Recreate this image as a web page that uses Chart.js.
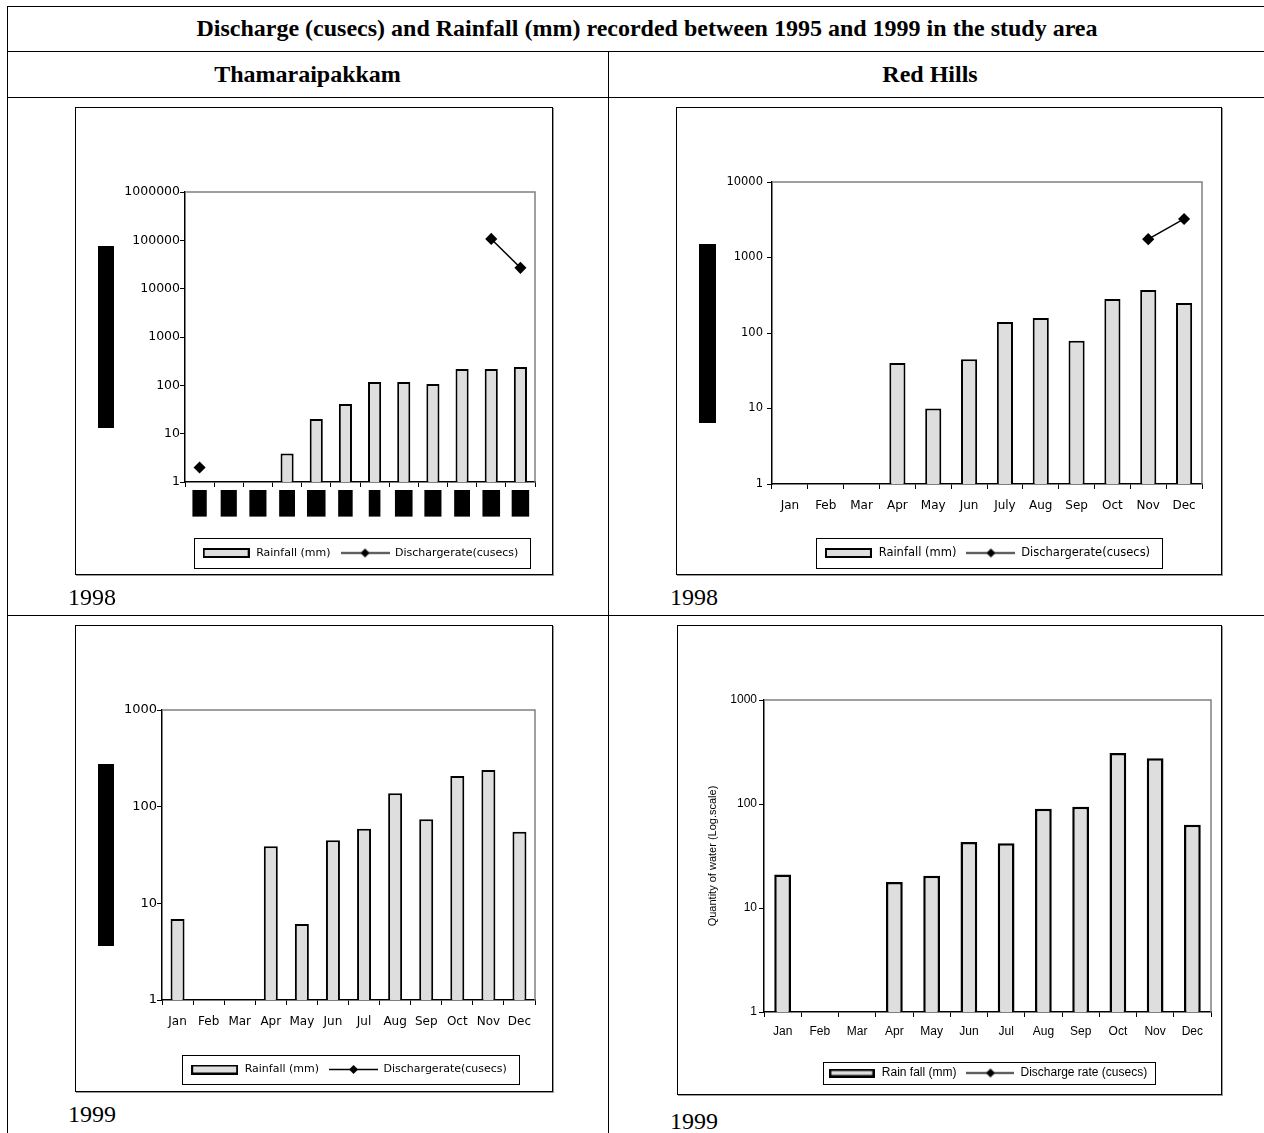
<!DOCTYPE html>
<html>
<head>
<meta charset="utf-8">
<script src="https://cdn.jsdelivr.net/npm/chart.js@4.4.0/dist/chart.umd.min.js"></script>
<style>
  body { margin: 0; background: #fff; width: 1264px; height: 1133px; overflow: hidden; position: relative;
         font-family: "Liberation Serif", "Times New Roman", serif; color: #000; }
  .hl { position: absolute; left: 7px; width: 1257px; height: 1px; background: #000; }
  .vl { position: absolute; width: 1px; background: #000; }
  .head { position: absolute; font-weight: bold; font-size: 24px; text-align: center; white-space: nowrap; }
  .frame { position: absolute; border: 1px solid #000; box-shadow: 1px 1px 0 #999; background: #fff; }
  .frame canvas { display: block; }
  .mask { position: absolute; background: #000; }
  .year { position: absolute; font-size: 24px; line-height: 24px; }
</style>
</head>
<body>
  <div class="hl" style="top:6px"></div>
  <div class="hl" style="top:51px"></div>
  <div class="hl" style="top:97px"></div>
  <div class="hl" style="top:615px"></div>
  <div class="vl" style="left:7px; top:6px; height:1127px"></div>
  <div class="vl" style="left:608px; top:51px; height:1082px"></div>

  <div class="head" style="left:7px; width:1280px; top:6px; line-height:45px">Discharge (cusecs) and Rainfall (mm) recorded between 1995 and 1999 in the study area</div>
  <div class="head" style="left:7px; width:601px; top:51px; line-height:46px">Thamaraipakkam</div>
  <div class="head" style="left:608px; width:644px; top:51px; line-height:46px">Red Hills</div>

  <div class="frame" style="left:75px; top:107px"><canvas id="tham98" width="476" height="466"></canvas></div>
  <div class="frame" style="left:676px; top:107px"><canvas id="red98" width="544" height="466"></canvas></div>
  <div class="frame" style="left:75px; top:625px"><canvas id="tham99" width="476" height="465"></canvas></div>
  <div class="frame" style="left:677px; top:625px"><canvas id="red99" width="543" height="468"></canvas></div>

  <div class="mask" style="left:98px; top:246px; width:16px; height:182px"></div>
  <div class="mask" style="left:699px; top:244px; width:17px; height:179px"></div>
  <div class="mask" style="left:98px; top:764px; width:16px; height:182px"></div>

  <div class="year" style="left:68px; top:585px">1998</div>
  <div class="year" style="left:670px; top:585px">1998</div>
  <div class="year" style="left:68px; top:1102px">1999</div>
  <div class="year" style="left:670px; top:1109px">1999</div>

<script>
const monthLabels = ['Jan', 'Feb', 'Mar', 'Apr', 'May', 'Jun', 'Jul', 'Aug', 'Sep', 'Oct', 'Nov', 'Dec'];
const monthLabelsRed98 = ['Jan', 'Feb', 'Mar', 'Apr', 'May', 'Jun', 'July', 'Aug', 'Sep', 'Oct', 'Nov', 'Dec'];

const yTicksTham98 = [1, 10, 100, 1000, 10000, 100000, 1000000];
const yTicksRed98 = [1, 10, 100, 1000, 10000];
const yTicks99 = [1, 10, 100, 1000];

// Thamaraipakkam 1998
const thamRain98 = [null, null, null, 3.9, 20, 41, 117, 117, 107, 219, 219, 240];
const thamDischarge98 = [2, null, null, null, null, null, null, null, null, null, 107000, 27000];
// Red Hills 1998
const redRain98 = [null, null, null, 40, 10, 45, 140, 158, 79, 282, 372, 250];
const redDischarge98 = [null, null, null, null, null, null, null, null, null, null, 1750, 3240];
// Thamaraipakkam 1999
const thamRain99 = [6.9, null, null, 39, 6.1, 45, 59, 138, 74, 208, 240, 55];
const thamDischarge99 = [null, null, null, null, null, null, null, null, null, null, null, null];
// Red Hills 1999
const redRain99 = [21, null, null, 17.8, 20.4, 43, 42, 90, 94, 310, 276, 63];
const redDischarge99 = [null, null, null, null, null, null, null, null, null, null, null, null];

function barSwatch(w, h, lw) {
    const c = document.createElement('canvas');
    c.width = w; c.height = h;
    const g = c.getContext('2d');
    g.fillStyle = '#dedede';
    g.fillRect(0, 0, w, h);
    g.strokeStyle = '#000';
    g.lineWidth = lw;
    g.strokeRect(lw / 2, lw / 2, w - lw, h - lw);
    return c;
}

function lineSwatch(w, h) {
    const c = document.createElement('canvas');
    c.width = w; c.height = h;
    const g = c.getContext('2d');
    const m = h / 2;
    g.strokeStyle = '#000';
    g.lineWidth = 1.5;
    g.beginPath(); g.moveTo(0, m); g.lineTo(w, m); g.stroke();
    g.fillStyle = '#000';
    g.beginPath();
    g.moveTo(w / 2, m - 4.5); g.lineTo(w / 2 + 4.5, m); g.lineTo(w / 2, m + 4.5); g.lineTo(w / 2 - 4.5, m);
    g.closePath(); g.fill();
    return c;
}

// gray top/right edge of the plot area and the box round the legend
const plotFrame = {
    id: 'plotFrame',
    beforeDatasetsDraw(chart) {
        const { ctx, chartArea: a } = chart;
        ctx.save();
        ctx.strokeStyle = '#808080';
        ctx.lineWidth = 1.5;
        ctx.beginPath();
        ctx.moveTo(a.left, a.top); ctx.lineTo(a.right, a.top); ctx.lineTo(a.right, a.bottom);
        ctx.stroke();
        ctx.restore();
    },
    afterDraw(chart, args, opts) {
        const lg = chart.legend;
        if (!lg || !lg.legendHitBoxes || !lg.legendHitBoxes.length) return;
        const hb = lg.legendHitBoxes;
        const first = hb[0], last = hb[hb.length - 1];
        const cy = first.top + first.height / 2;
        const x0 = Math.round(first.left - opts.padL);
        const x1 = Math.round(last.left + last.width + opts.padR);
        const ctx = chart.ctx;
        ctx.save();
        ctx.strokeStyle = '#000';
        ctx.lineWidth = 1;
        ctx.strokeRect(x0 + 0.5, Math.round(cy - opts.boxH / 2) + 0.5, x1 - x0, opts.boxH);
        ctx.restore();
    }
};

function drawPanel(id, p) {
    const canvas = document.getElementById(id);
    const H = canvas.height;
    const lf = p.legendFont;
    const legendTop = p.legendMid - 10 - lf / 2;   // legend block = font + 10 padding + 10
    const swatches = [barSwatch(p.swatchW, p.swatchH, p.barBorder), lineSwatch(p.swatchW + 2, 11)];

    new Chart(canvas, {
        type: 'bar',
        data: {
            labels: p.labels,
            datasets: [{
                label: p.rainLabel,
                data: p.rain,
                backgroundColor: '#dedede',
                borderColor: '#000',
                borderWidth: p.barBorder,
                barPercentage: 0.9,
                categoryPercentage: 0.5
            }, {
                type: 'line',
                label: p.dischargeLabel,
                data: p.discharge,
                borderColor: '#000',
                borderWidth: 1.5,
                pointStyle: 'rectRot',
                pointRadius: 5,
                pointBackgroundColor: '#000',
                pointBorderColor: '#000',
                spanGaps: false,
                fill: false
            }]
        },
        options: {
            responsive: false,
            animation: false,
            events: [],
            layout: { padding: { top: p.plotTop, right: p.padRight, left: 0, bottom: H - legendTop - (lf + 20) } },
            scales: {
                x: {
                    grid: { drawOnChartArea: false, tickLength: 5, color: '#000', lineWidth: 1 },
                    border: { color: '#000', width: 1.5 },
                    ticks: {
                        color: '#000',
                        font: { family: p.font, size: p.redact ? 8 : p.xFont },
                        padding: p.xPad,
                        maxRotation: 0,
                        autoSkip: false,
                        showLabelBackdrop: !!p.redact,
                        backdropColor: '#000',
                        backdropPadding: { top: 8.5, bottom: 8.5, left: 1, right: 1 }
                    },
                    afterFit: s => { s.height = legendTop - p.plotBottom; }
                },
                y: {
                    type: 'logarithmic',
                    min: p.yTicks[0],
                    max: p.yTicks[p.yTicks.length - 1],
                    afterBuildTicks: s => { s.ticks = p.yTicks.map(v => ({ value: v })); },
                    afterFit: s => { s.width = p.plotLeft; },
                    grid: { drawOnChartArea: false, tickLength: 5, color: '#000', lineWidth: 1 },
                    border: { color: '#000', width: 1.5 },
                    ticks: { color: '#000', font: { family: p.font, size: p.yFont }, padding: p.yPad, callback: v => String(v) },
                    title: {
                        display: !!p.yTitle,
                        text: p.yTitle || '',
                        color: '#000',
                        font: { family: p.font, size: 11 },
                        padding: { top: 28, bottom: 0 }
                    }
                }
            },
            plugins: {
                legend: {
                    position: 'bottom',
                    fullSize: false,
                    labels: {
                        color: '#000',
                        font: { family: p.font, size: lf },
                        padding: 10,
                        usePointStyle: true,
                        pointStyleWidth: p.swatchW + 2,
                        generateLabels: chart => Chart.defaults.plugins.legend.labels.generateLabels(chart)
                            .map((item, i) => Object.assign(item, { pointStyle: swatches[i], rotation: 0 }))
                    }
                },
                tooltip: { enabled: false },
                plotFrame: { padL: p.legendPad[0], padR: p.legendPad[1], boxH: p.legendH }
            }
        },
        plugins: [plotFrame]
    });
}

drawPanel('tham98', {
    labels: monthLabels, rain: thamRain98, discharge: thamDischarge98, yTicks: yTicksTham98,
    rainLabel: 'Rainfall (mm)', dischargeLabel: 'Dischargerate(cusecs)',
    font: 'DejaVu Sans', xFont: 12, yFont: 12.5, legendFont: 11,
    plotLeft: 109, plotTop: 84, plotBottom: 374, padRight: 17,
    legendMid: 445, legendH: 30, legendPad: [8, 12], swatchW: 47, swatchH: 10, barBorder: 2,
    xPad: 11.5, yPad: 0, redact: true
});

drawPanel('red98', {
    labels: monthLabelsRed98, rain: redRain98, discharge: redDischarge98, yTicks: yTicksRed98,
    rainLabel: 'Rainfall (mm)', dischargeLabel: 'Dischargerate(cusecs)',
    font: 'DejaVu Sans', xFont: 12, yFont: 11.5, legendFont: 11.5,
    plotLeft: 95, plotTop: 74, plotBottom: 376, padRight: 19,
    legendMid: 445, legendH: 30, legendPad: [8, 12], swatchW: 47, swatchH: 10, barBorder: 2,
    xPad: 9.5, yPad: 4
});

drawPanel('tham99', {
    labels: monthLabels, rain: thamRain99, discharge: thamDischarge99, yTicks: yTicks99,
    rainLabel: 'Rainfall (mm)', dischargeLabel: 'Dischargerate(cusecs)',
    font: 'DejaVu Sans', xFont: 12, yFont: 13, legendFont: 11,
    plotLeft: 86, plotTop: 84, plotBottom: 374, padRight: 17,
    legendMid: 443.5, legendH: 29, legendPad: [8, 12], swatchW: 47, swatchH: 10, barBorder: 2,
    xPad: 9.5, yPad: 0
});

drawPanel('red99', {
    labels: monthLabels, rain: redRain99, discharge: redDischarge99, yTicks: yTicks99,
    rainLabel: 'Rain fall (mm)', dischargeLabel: 'Discharge rate (cusecs)',
    font: 'Liberation Sans', xFont: 12, yFont: 12, legendFont: 12,
    plotLeft: 86, plotTop: 74, plotBottom: 386, padRight: 10,
    legendMid: 447, legendH: 22, legendPad: [5, 8], swatchW: 46, swatchH: 9, barBorder: 2.5,
    xPad: 7, yPad: 2, yTitle: 'Quantity of water (Log.scale)'
});
</script>
</body>
</html>
